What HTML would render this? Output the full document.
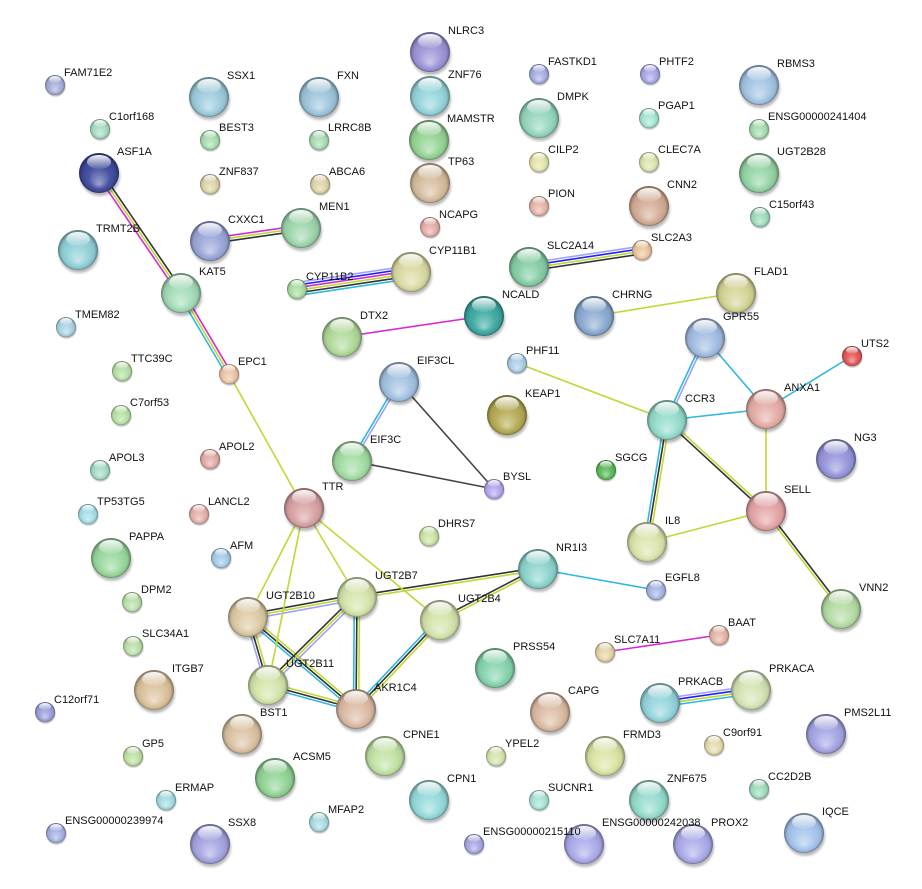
<!DOCTYPE html>
<html><head><meta charset="utf-8"><style>
html,body{margin:0;padding:0;background:#fff;}
svg{display:block;}
text{font-family:"Liberation Sans",Arial,sans-serif;font-size:11px;fill:#111;}
</style></head><body>
<svg width="922" height="889" viewBox="0 0 922 889" xmlns="http://www.w3.org/2000/svg">
<defs>
<radialGradient id="sh" cx="0.5" cy="0.5" r="0.5" fx="0.5" fy="0.78">
<stop offset="0" stop-color="#fff" stop-opacity="0.5"/>
<stop offset="0.55" stop-color="#fff" stop-opacity="0.05"/>
<stop offset="0.85" stop-color="#000" stop-opacity="0.08"/>
<stop offset="1" stop-color="#000" stop-opacity="0.42"/>
</radialGradient>
<linearGradient id="hl" x1="0" y1="0" x2="0" y2="1">
<stop offset="0" stop-color="#fff" stop-opacity="0.95"/>
<stop offset="1" stop-color="#fff" stop-opacity="0.08"/>
</linearGradient>
<filter id="bl" x="-50%" y="-50%" width="200%" height="200%"><feGaussianBlur stdDeviation="1.3"/></filter>
<g id="ball">
<circle cx="1" cy="3" r="20" fill="#000" opacity="0.28" filter="url(#bl)"/>
<circle r="20"/>
<circle r="20" fill="url(#sh)"/>
<ellipse cx="0" cy="-11" rx="12" ry="7" fill="url(#hl)"/>
</g>
</defs>

<g fill="none" stroke-width="1.6">
<!-- multi edges -->
<g transform="translate(99 173) rotate(55.65)"><line x2="145.3" y1="2.6" y2="2.6" stroke="#d42ad4"/><line x2="145.3" stroke="#bfd835"/><line x2="145.3" y1="-2.6" y2="-2.6" stroke="#333"/></g>
<g transform="translate(181 293) rotate(59.35)"><line x2="94.2" y1="2.6" y2="2.6" stroke="#2fb8e0"/><line x2="94.2" stroke="#bfd835"/><line x2="94.2" y1="-2.6" y2="-2.6" stroke="#d42ad4"/></g>
<g transform="translate(210 241) rotate(-8.13)"><line x2="91.9" y1="-2.6" y2="-2.6" stroke="#d42ad4"/><line x2="91.9" stroke="#bfd835"/><line x2="91.9" y1="2.6" y2="2.6" stroke="#333"/></g>
<g transform="translate(297 289) rotate(-8.48)"><line x2="115.3" y1="-6.5" y2="-6.5" stroke="#a0a0ff"/><line x2="115.3" y1="-3.9" y2="-3.9" stroke="#2020ff"/><line x2="115.3" y1="-1.3" y2="-1.3" stroke="#d42ad4"/><line x2="115.3" y1="1.3" y2="1.3" stroke="#bfd835"/><line x2="115.3" y1="3.9" y2="3.9" stroke="#333"/><line x2="115.3" y1="6.5" y2="6.5" stroke="#2fb8e0"/></g>
<g transform="translate(529 267) rotate(-8.56)"><line x2="114.3" y1="-3.9" y2="-3.9" stroke="#a0a0ff"/><line x2="114.3" y1="-1.3" y2="-1.3" stroke="#2020ff"/><line x2="114.3" y1="1.3" y2="1.3" stroke="#bfd835"/><line x2="114.3" y1="3.9" y2="3.9" stroke="#333"/></g>
<g transform="translate(399 382) rotate(120.75)"><line x2="91.9" y1="1.3" y2="1.3" stroke="#2fb8e0"/><line x2="91.9" y1="-1.3" y2="-1.3" stroke="#a0a0ff"/></g>
<g transform="translate(705 338) rotate(114.86)"><line x2="90.4" y1="1.3" y2="1.3" stroke="#2fb8e0"/><line x2="90.4" y1="-1.3" y2="-1.3" stroke="#a0a0ff"/></g>
<g transform="translate(667 420) rotate(42.59)"><line x2="134.5" y1="1.3" y2="1.3" stroke="#333"/><line x2="134.5" y1="-1.3" y2="-1.3" stroke="#bfd835"/></g>
<g transform="translate(667 420) rotate(99.31)"><line x2="123.6" y1="2.6" y2="2.6" stroke="#2fb8e0"/><line x2="123.6" stroke="#333"/><line x2="123.6" y1="-2.6" y2="-2.6" stroke="#bfd835"/></g>
<g transform="translate(766 511) rotate(52.58)"><line x2="123.4" y1="1.3" y2="1.3" stroke="#bfd835"/><line x2="123.4" y1="-1.3" y2="-1.3" stroke="#333"/></g>
<g transform="translate(248 617) rotate(-10.4)"><line x2="110.8" y1="-2.6" y2="-2.6" stroke="#333"/><line x2="110.8" stroke="#bfd835"/><line x2="110.8" y1="2.6" y2="2.6" stroke="#a0a0ff"/></g>
<g transform="translate(357 597) rotate(-8.79)"><line x2="183.2" y1="-1.3" y2="-1.3" stroke="#333"/><line x2="183.2" y1="1.3" y2="1.3" stroke="#bfd835"/></g>
<g transform="translate(440 620) rotate(-27.5)"><line x2="110.5" y1="-1.3" y2="-1.3" stroke="#333"/><line x2="110.5" y1="1.3" y2="1.3" stroke="#bfd835"/></g>
<g transform="translate(248 617) rotate(73.6)"><line x2="70.9" y1="2.6" y2="2.6" stroke="#a0a0ff"/><line x2="70.9" stroke="#333"/><line x2="70.9" y1="-2.6" y2="-2.6" stroke="#bfd835"/></g>
<g transform="translate(248 617) rotate(40.4)"><line x2="141.9" y1="2.6" y2="2.6" stroke="#2fb8e0"/><line x2="141.9" stroke="#333"/><line x2="141.9" y1="-2.6" y2="-2.6" stroke="#bfd835"/></g>
<g transform="translate(357 597) rotate(135.3)"><line x2="125.2" y1="2.6" y2="2.6" stroke="#333"/><line x2="125.2" stroke="#bfd835"/><line x2="125.2" y1="-2.6" y2="-2.6" stroke="#a0a0ff"/></g>
<g transform="translate(357 597) rotate(90.5)"><line x2="112" y1="2.6" y2="2.6" stroke="#2fb8e0"/><line x2="112" stroke="#333"/><line x2="112" y1="-2.6" y2="-2.6" stroke="#bfd835"/></g>
<g transform="translate(440 620) rotate(133.35)"><line x2="122.4" y1="2.6" y2="2.6" stroke="#2fb8e0"/><line x2="122.4" stroke="#333"/><line x2="122.4" y1="-2.6" y2="-2.6" stroke="#bfd835"/></g>
<g transform="translate(268 685) rotate(15.26)"><line x2="91.2" y1="-2.6" y2="-2.6" stroke="#bfd835"/><line x2="91.2" stroke="#333"/><line x2="91.2" y1="2.6" y2="2.6" stroke="#2fb8e0"/></g>
<g transform="translate(660 703) rotate(-8.13)"><line x2="91.9" y1="-3.9" y2="-3.9" stroke="#a0a0ff"/><line x2="91.9" y1="-1.3" y2="-1.3" stroke="#2020ff"/><line x2="91.9" y1="1.3" y2="1.3" stroke="#bfd835"/><line x2="91.9" y1="3.9" y2="3.9" stroke="#2fb8e0"/></g>
<!-- single edges -->
<line x1="342" y1="337" x2="484" y2="316" stroke="#d42ad4"/>
<line x1="594" y1="316" x2="736" y2="293" stroke="#bfd835"/>
<line x1="229" y1="374" x2="304" y2="508" stroke="#bfd835"/>
<line x1="399" y1="382" x2="494" y2="489" stroke="#444"/>
<line x1="352" y1="461" x2="494" y2="489" stroke="#444"/>
<line x1="517" y1="363" x2="667" y2="420" stroke="#bfd835"/>
<line x1="705" y1="338" x2="766" y2="409" stroke="#2fb8e0"/>
<line x1="852" y1="356" x2="766" y2="409" stroke="#2fb8e0"/>
<line x1="667" y1="420" x2="766" y2="409" stroke="#2fb8e0"/>
<line x1="766" y1="409" x2="766" y2="511" stroke="#bfd835"/>
<line x1="766" y1="511" x2="647" y2="542" stroke="#bfd835"/>
<line x1="538" y1="569" x2="656" y2="590" stroke="#2fb8e0"/>
<line x1="304" y1="508" x2="248" y2="617" stroke="#bfd835"/>
<line x1="304" y1="508" x2="268" y2="685" stroke="#bfd835"/>
<line x1="304" y1="508" x2="357" y2="597" stroke="#bfd835"/>
<line x1="304" y1="508" x2="440" y2="620" stroke="#bfd835"/>
<line x1="605" y1="652" x2="719" y2="635" stroke="#d42ad4"/>
</g>

<!-- nodes -->
<g>
<use href="#ball" fill="#a3acd9" transform="translate(55 85) scale(.5)"/>
<use href="#ball" fill="#a6dcc0" transform="translate(100 129) scale(.5)"/>
<use href="#ball" fill="#3d4a9c" transform="translate(99 173)"/>
<use href="#ball" fill="#8fd0d8" transform="translate(78 250)"/>
<use href="#ball" fill="#a8d2e2" transform="translate(66 327) scale(.5)"/>
<use href="#ball" fill="#b6e0a2" transform="translate(122 371) scale(.5)"/>
<use href="#ball" fill="#b6e0a2" transform="translate(121 415) scale(.5)"/>
<use href="#ball" fill="#a2dcc4" transform="translate(100 470) scale(.5)"/>
<use href="#ball" fill="#a2dde8" transform="translate(88 514) scale(.5)"/>
<use href="#ball" fill="#98d89c" transform="translate(111 558)"/>
<use href="#ball" fill="#b8e0a8" transform="translate(132 602) scale(.5)"/>
<use href="#ball" fill="#b8e0a8" transform="translate(133 646) scale(.5)"/>
<use href="#ball" fill="#9a9edb" transform="translate(45 712) scale(.5)"/>
<use href="#ball" fill="#bfe0a2" transform="translate(133 756) scale(.5)"/>
<use href="#ball" fill="#a2dbe0" transform="translate(166 800) scale(.5)"/>
<use href="#ball" fill="#a3b0e0" transform="translate(56 833) scale(.5)"/>
<use href="#ball" fill="#9ccbdc" transform="translate(209 97)"/>
<use href="#ball" fill="#a8dcb0" transform="translate(210 140) scale(.5)"/>
<use href="#ball" fill="#ddd3a5" transform="translate(210 184) scale(.5)"/>
<use href="#ball" fill="#9aa6da" transform="translate(210 241)"/>
<use href="#ball" fill="#a3dcb8" transform="translate(181 293)"/>
<use href="#ball" fill="#ecc3a5" transform="translate(229 374) scale(.5)"/>
<use href="#ball" fill="#e3a9a5" transform="translate(210 459) scale(.5)"/>
<use href="#ball" fill="#e3b0a8" transform="translate(199 514) scale(.5)"/>
<use href="#ball" fill="#a2cbe8" transform="translate(221 558) scale(.5)"/>
<use href="#ball" fill="#dbc29a" transform="translate(154 690)"/>
<use href="#ball" fill="#dbc2a2" transform="translate(242 734)"/>
<use href="#ball" fill="#a4a4e2" transform="translate(210 844)"/>
<use href="#ball" fill="#90d494" transform="translate(275 778)"/>
<use href="#ball" fill="#a8dae2" transform="translate(319 822) scale(.5)"/>
<use href="#ball" fill="#9cc4dc" transform="translate(319 97)"/>
<use href="#ball" fill="#a8dcb0" transform="translate(319 140) scale(.5)"/>
<use href="#ball" fill="#ddd3a5" transform="translate(320 184) scale(.5)"/>
<use href="#ball" fill="#9cd6aa" transform="translate(301 228)"/>
<use href="#ball" fill="#a8dca0" transform="translate(297 289) scale(.5)"/>
<use href="#ball" fill="#b0da98" transform="translate(342 337)"/>
<use href="#ball" fill="#a2dca2" transform="translate(352 461)"/>
<use href="#ball" fill="#d8a0a2" transform="translate(304 508)"/>
<use href="#ball" fill="#dccaa2" transform="translate(248 617)"/>
<use href="#ball" fill="#d4e4aa" transform="translate(268 685)"/>
<use href="#ball" fill="#d4e4aa" transform="translate(357 597)"/>
<use href="#ball" fill="#dcbaa2" transform="translate(356 709)"/>
<use href="#ball" fill="#c2e2a2" transform="translate(385 756)"/>
<use href="#ball" fill="#94dada" transform="translate(429 800)"/>
<use href="#ball" fill="#9a94d6" transform="translate(430 52)"/>
<use href="#ball" fill="#94d4dc" transform="translate(430 96)"/>
<use href="#ball" fill="#94d494" transform="translate(429 140)"/>
<use href="#ball" fill="#d6bc9c" transform="translate(430 183)"/>
<use href="#ball" fill="#e6aca6" transform="translate(430 227) scale(.5)"/>
<use href="#ball" fill="#dadaa2" transform="translate(411 272)"/>
<use href="#ball" fill="#a2c2e2" transform="translate(399 382)"/>
<use href="#ball" fill="#b4a4ec" transform="translate(494 489) scale(.5)"/>
<use href="#ball" fill="#cae4a2" transform="translate(429 536) scale(.5)"/>
<use href="#ball" fill="#d4e4aa" transform="translate(440 620)"/>
<use href="#ball" fill="#8cd4cc" transform="translate(538 569)"/>
<use href="#ball" fill="#84d4ac" transform="translate(495 668)"/>
<use href="#ball" fill="#a4ace2" transform="translate(539 74) scale(.5)"/>
<use href="#ball" fill="#94d6bc" transform="translate(539 118)"/>
<use href="#ball" fill="#e4e4aa" transform="translate(539 162) scale(.5)"/>
<use href="#ball" fill="#e6b4a6" transform="translate(539 206) scale(.5)"/>
<use href="#ball" fill="#84cca4" transform="translate(529 267)"/>
<use href="#ball" fill="#3aa8a0" transform="translate(484 316)"/>
<use href="#ball" fill="#aacce6" transform="translate(517 363) scale(.5)"/>
<use href="#ball" fill="#b4aa52" transform="translate(507 415)"/>
<use href="#ball" fill="#58b858" transform="translate(606 470) scale(.5)"/>
<use href="#ball" fill="#dcbca4" transform="translate(550 712)"/>
<use href="#ball" fill="#d4e4aa" transform="translate(496 756) scale(.5)"/>
<use href="#ball" fill="#a4e4d4" transform="translate(539 800) scale(.5)"/>
<use href="#ball" fill="#a4a6e2" transform="translate(474 844) scale(.5)"/>
<use href="#ball" fill="#aaaaea" transform="translate(584 844)"/>
<use href="#ball" fill="#a6a6e6" transform="translate(650 74) scale(.5)"/>
<use href="#ball" fill="#a4e4d4" transform="translate(649 118) scale(.5)"/>
<use href="#ball" fill="#dce4aa" transform="translate(649 162) scale(.5)"/>
<use href="#ball" fill="#d4ac94" transform="translate(649 206)"/>
<use href="#ball" fill="#ecc49c" transform="translate(642 250) scale(.5)"/>
<use href="#ball" fill="#8aaad2" transform="translate(594 316)"/>
<use href="#ball" fill="#d4d494" transform="translate(736 293)"/>
<use href="#ball" fill="#a2bce2" transform="translate(705 338)"/>
<use href="#ball" fill="#94dccc" transform="translate(667 420)"/>
<use href="#ball" fill="#dce4ac" transform="translate(647 542)"/>
<use href="#ball" fill="#a4b4e4" transform="translate(656 590) scale(.5)"/>
<use href="#ball" fill="#e4d4a4" transform="translate(605 652) scale(.5)"/>
<use href="#ball" fill="#e4b4a4" transform="translate(719 635) scale(.5)"/>
<use href="#ball" fill="#94d4dc" transform="translate(660 703)"/>
<use href="#ball" fill="#d4e4b4" transform="translate(751 690)"/>
<use href="#ball" fill="#dce4a4" transform="translate(605 756)"/>
<use href="#ball" fill="#e4dcac" transform="translate(714 745) scale(.5)"/>
<use href="#ball" fill="#94dccc" transform="translate(649 800)"/>
<use href="#ball" fill="#aaaaea" transform="translate(693 844)"/>
<use href="#ball" fill="#a4c4e4" transform="translate(759 85)"/>
<use href="#ball" fill="#a4dcac" transform="translate(759 129) scale(.5)"/>
<use href="#ball" fill="#94d4a4" transform="translate(759 173)"/>
<use href="#ball" fill="#9cdcbc" transform="translate(760 217) scale(.5)"/>
<use href="#ball" fill="#e45454" transform="translate(852 356) scale(.5)"/>
<use href="#ball" fill="#e4aca4" transform="translate(766 409)"/>
<use href="#ball" fill="#9494dc" transform="translate(836 459)"/>
<use href="#ball" fill="#e4a4a4" transform="translate(766 511)"/>
<use href="#ball" fill="#b4dca4" transform="translate(841 609)"/>
<use href="#ball" fill="#a4a4e4" transform="translate(826 734)"/>
<use href="#ball" fill="#9cdcbc" transform="translate(759 789) scale(.5)"/>
<use href="#ball" fill="#a4c4ec" transform="translate(804 833)"/>
</g>

<!-- labels -->
<g>
<text x="64" y="76">FAM71E2</text>
<text x="109" y="120">C1orf168</text>
<text x="117" y="155">ASF1A</text>
<text x="96" y="232">TRMT2B</text>
<text x="75" y="318">TMEM82</text>
<text x="131" y="362">TTC39C</text>
<text x="130" y="406">C7orf53</text>
<text x="109" y="461">APOL3</text>
<text x="97" y="505">TP53TG5</text>
<text x="129" y="540">PAPPA</text>
<text x="141" y="593">DPM2</text>
<text x="142" y="637">SLC34A1</text>
<text x="54" y="703">C12orf71</text>
<text x="142" y="747">GP5</text>
<text x="175" y="791">ERMAP</text>
<text x="65" y="824">ENSG00000239974</text>
<text x="227" y="79">SSX1</text>
<text x="219" y="131">BEST3</text>
<text x="219" y="175">ZNF837</text>
<text x="228" y="223">CXXC1</text>
<text x="199" y="275">KAT5</text>
<text x="238" y="365">EPC1</text>
<text x="219" y="450">APOL2</text>
<text x="208" y="505">LANCL2</text>
<text x="230" y="549">AFM</text>
<text x="172" y="672">ITGB7</text>
<text x="260" y="716">BST1</text>
<text x="228" y="826">SSX8</text>
<text x="293" y="760">ACSM5</text>
<text x="328" y="813">MFAP2</text>
<text x="337" y="79">FXN</text>
<text x="328" y="131">LRRC8B</text>
<text x="329" y="175">ABCA6</text>
<text x="319" y="210">MEN1</text>
<text x="306" y="280">CYP11B2</text>
<text x="360" y="319">DTX2</text>
<text x="370" y="443">EIF3C</text>
<text x="322" y="490">TTR</text>
<text x="266" y="599">UGT2B10</text>
<text x="286" y="667">UGT2B11</text>
<text x="375" y="579">UGT2B7</text>
<text x="374" y="691">AKR1C4</text>
<text x="403" y="738">CPNE1</text>
<text x="447" y="782">CPN1</text>
<text x="448" y="34">NLRC3</text>
<text x="448" y="78">ZNF76</text>
<text x="447" y="122">MAMSTR</text>
<text x="448" y="165">TP63</text>
<text x="439" y="218">NCAPG</text>
<text x="429" y="254">CYP11B1</text>
<text x="417" y="364">EIF3CL</text>
<text x="503" y="480">BYSL</text>
<text x="438" y="527">DHRS7</text>
<text x="458" y="602">UGT2B4</text>
<text x="556" y="551">NR1I3</text>
<text x="513" y="650">PRSS54</text>
<text x="548" y="65">FASTKD1</text>
<text x="557" y="100">DMPK</text>
<text x="548" y="153">CILP2</text>
<text x="548" y="197">PION</text>
<text x="547" y="249">SLC2A14</text>
<text x="502" y="298">NCALD</text>
<text x="526" y="354">PHF11</text>
<text x="525" y="397">KEAP1</text>
<text x="615" y="461">SGCG</text>
<text x="568" y="694">CAPG</text>
<text x="505" y="747">YPEL2</text>
<text x="548" y="791">SUCNR1</text>
<text x="483" y="835">ENSG00000215110</text>
<text x="602" y="826">ENSG00000242038</text>
<text x="659" y="65">PHTF2</text>
<text x="658" y="109">PGAP1</text>
<text x="658" y="153">CLEC7A</text>
<text x="667" y="188">CNN2</text>
<text x="651" y="241">SLC2A3</text>
<text x="612" y="298">CHRNG</text>
<text x="754" y="275">FLAD1</text>
<text x="723" y="320">GPR55</text>
<text x="685" y="402">CCR3</text>
<text x="665" y="524">IL8</text>
<text x="665" y="581">EGFL8</text>
<text x="614" y="643">SLC7A11</text>
<text x="728" y="626">BAAT</text>
<text x="678" y="685">PRKACB</text>
<text x="769" y="672">PRKACA</text>
<text x="623" y="738">FRMD3</text>
<text x="723" y="736">C9orf91</text>
<text x="667" y="782">ZNF675</text>
<text x="711" y="826">PROX2</text>
<text x="777" y="67">RBMS3</text>
<text x="768" y="120">ENSG00000241404</text>
<text x="777" y="155">UGT2B28</text>
<text x="769" y="208">C15orf43</text>
<text x="861" y="347">UTS2</text>
<text x="784" y="391">ANXA1</text>
<text x="854" y="441">NG3</text>
<text x="784" y="493">SELL</text>
<text x="859" y="591">VNN2</text>
<text x="844" y="716">PMS2L11</text>
<text x="768" y="780">CC2D2B</text>
<text x="822" y="815">IQCE</text>
</g>
</svg>
</body></html>
